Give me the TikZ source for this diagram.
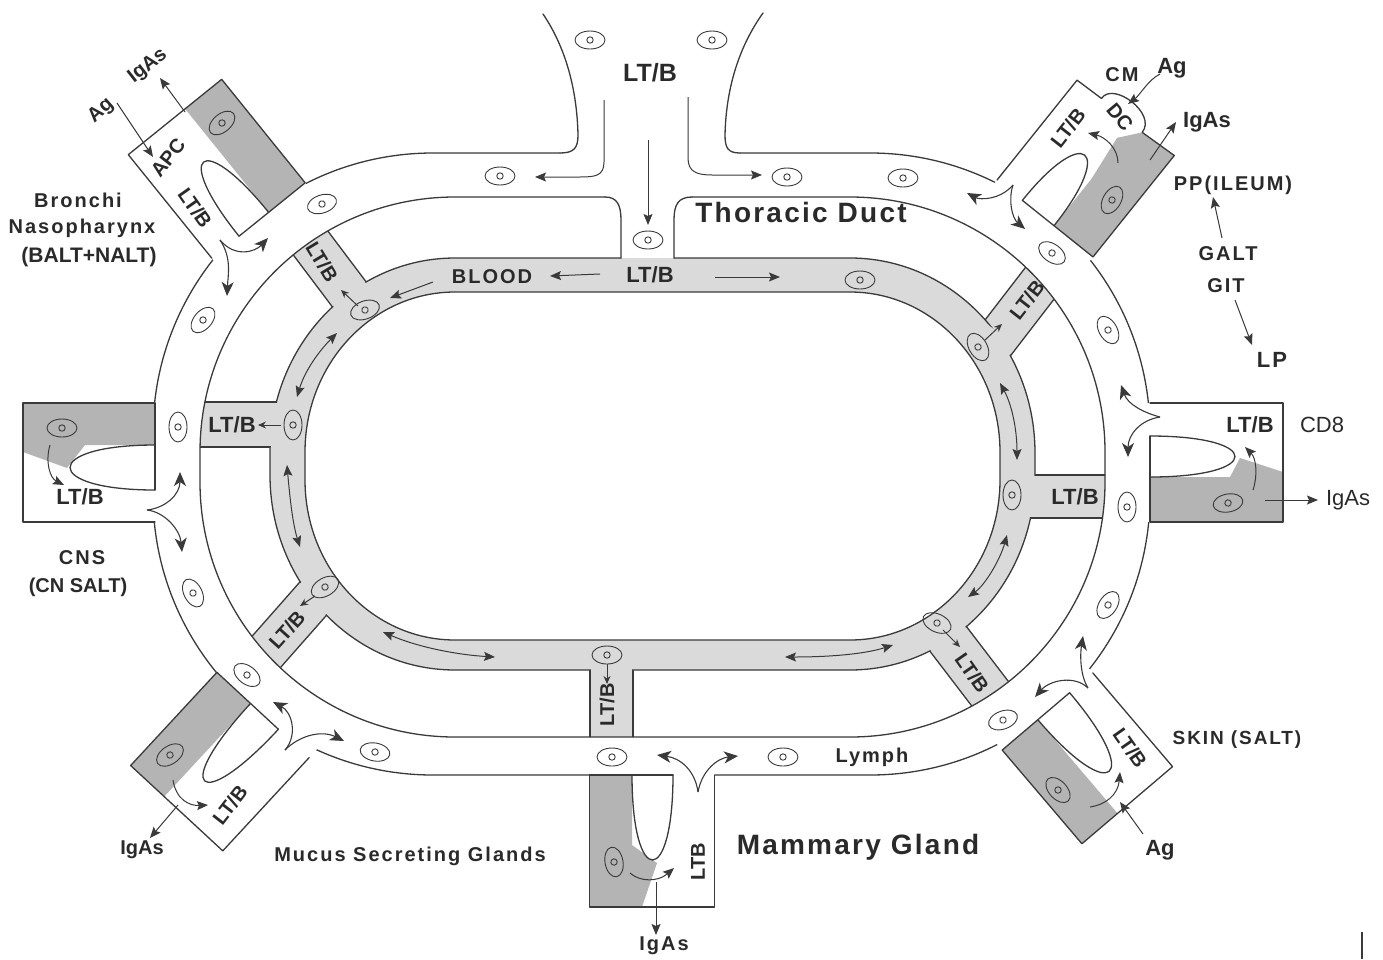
\documentclass[tikz,border=0pt]{standalone}
\usepackage{fontspec}
\setmainfont{Liberation Sans}
\newfontfamily\spc[LetterSpace=10]{Liberation Sans}
\newfontfamily\spcb[LetterSpace=8]{Liberation Sans}
\usetikzlibrary{arrows.meta}
\definecolor{ln}{HTML}{3A3A3A}
\definecolor{tissue}{HTML}{B4B4B4}
\definecolor{bloodc}{HTML}{DADADA}
\definecolor{txt}{HTML}{2A2A2A}
\tikzset{
 outl/.style={draw=ln,line width=1.3pt,line join=round,line cap=round},
 cellst/.style={draw=ln,line width=0.9pt},
 arr/.style={draw=ln,line width=1pt,-{Stealth[length=11pt,width=9pt,inset=2pt]}},
 sarr/.style={draw=ln,line width=1pt,-{Stealth[length=8pt,width=7pt]}},
 darr/.style={draw=ln,line width=1pt,{Stealth[length=11pt,width=9pt,inset=2pt]}-{Stealth[length=11pt,width=9pt,inset=2pt]}},
 fork/.style={draw=ln,line width=1.1pt,-{Stealth[length=14pt,width=12pt,inset=4pt]}},
 lb/.style={text=txt,inner sep=0pt,font=\bfseries\fontsize{20}{22}\selectfont},
 lbm/.style={text=txt,inner sep=0pt,font=\bfseries\fontsize{22}{24}\selectfont},
 lbr/.style={text=txt,inner sep=0pt,font=\fontsize{22}{24}\selectfont},
 lbsp/.style={text=txt,inner sep=0pt,font=\spc\bfseries\fontsize{20}{22}\selectfont},
 lbbig/.style={text=txt,inner sep=0pt,font=\spcb\bfseries\fontsize{28}{30}\selectfont},
}
\newcommand\ringclosed[6]{({#1+#5},#2) -- ({#3-#5},#2) arc[start angle=270,end angle=360,x radius=#5pt,y radius=#6pt] -- (#3,{#4-#6}) arc[start angle=0,end angle=90,x radius=#5pt,y radius=#6pt] -- ({#1+#5},#4) arc[start angle=90,end angle=180,x radius=#5pt,y radius=#6pt] -- (#1,{#2+#6}) arc[start angle=180,end angle=270,x radius=#5pt,y radius=#6pt] -- cycle}
\newcommand\ringopen[8]{(#7,#2) -- ({#1+#5},#2) arc[start angle=270,end angle=180,x radius=#5pt,y radius=#6pt] -- (#1,{#4-#6}) arc[start angle=180,end angle=90,x radius=#5pt,y radius=#6pt] -- ({#3-#5},#4) arc[start angle=90,end angle=0,x radius=#5pt,y radius=#6pt] -- (#3,{#2+#6}) arc[start angle=360,end angle=270,x radius=#5pt,y radius=#6pt] -- (#8,#2)}
\newcommand\organ[9]{%
\begin{scope}[shift={(#1,#2)},rotate=#3]
\fill[white] (-#4,12) rectangle (#4,-#5);
\fill[tissue] (#7,0) -- #9 -- (#4,-#5) -- (#4,0) -- cycle;
\filldraw[fill=white,outl] (#6,0) .. controls (#6,{-1.333*#8}) and (#7,{-1.333*#8}) .. (#7,0);
\draw[outl] (-#4,0) -- (-#4,-#5) -- (#4,-#5) -- (#4,0) -- (#6,0);
\end{scope}}
\newcommand\brn[4]{\begin{scope}[shift={(#1,#2)},rotate=#3]\fill[bloodc] (-#4,10) rectangle (#4,-110);\draw[outl] (-#4,8) -- (-#4,-110) (#4,8) -- (#4,-110);\end{scope}}
\newcommand\brnpatch[4]{\begin{scope}[shift={(#1,#2)},rotate=#3]\fill[bloodc] ({-#4+1.2},8) rectangle ({#4-1.2},-4);\end{scope}}
\newcommand\cel[3]{\begin{scope}[shift={(#1,#2)},rotate={-1*(#3)}]\draw[cellst] (0,0) ellipse[x radius=15pt,y radius=9pt];\draw[cellst] (0,0) circle[radius=3.2pt];\end{scope}}
\begin{document}
\begin{tikzpicture}[x=1pt,y=1pt,yscale=-1]
\useasboundingbox (0,0) rectangle (1383,959);
\fill[white] (0,0) rectangle (1383,959);
% lymph outer and thoracic duct
\draw[outl] \ringopen{153}{153}{1150}{775}{280}{280}{560}{740};
\draw[outl] (560,153) .. controls (574,153) and (578,148) .. (578,135) .. controls (577,90) and (566,48) .. (543,14);
\draw[outl] (740,153) .. controls (728,153) and (725,148) .. (725,135) .. controls (726,90) and (738,48) .. (763,13);
% organ boxes
\organ{258.5}{220.5}{-38.9}{60}{133}{-25}{13}{80}{(13,-133)}
\begin{scope}[shift={(1045,218.5)},rotate=38.7]
\fill[white] (-61.5,12) -- (-61.5,-128) -- (-31,-129) .. controls (-33,-150) and (22,-152) .. (22,-128) -- (61.5,-130) -- (61.5,12) -- cycle;
\fill[tissue] (11.5,0) -- (11.5,-60) -- (5.8,-108) -- (22,-128) -- (61.5,-130) -- (61.5,0) -- cycle;
\filldraw[fill=white,outl] (-29,0) .. controls (-29,-99) and (11.5,-99) .. (11.5,0);
\draw[outl] (-61.5,0) -- (-61.5,-128) -- (-31,-129) .. controls (-33,-150) and (22,-152) .. (22,-128) -- (61.5,-130) -- (61.5,0) -- (-29,0);
\end{scope}
\organ{1150}{462.5}{90}{59.5}{133}{-26.5}{14.5}{85}{(14.5,-80) -- (-4.5,-90) -- (9.5,-133)}
\organ{1047.5}{711.5}{139.6}{59.5}{123}{-29}{12.7}{85.5}{(12.7,-123)}
\organ{652}{775}{180}{62.5}{132}{-21}{20}{85}{(20,-70) -- (-5,-88) -- (10,-132)}
\organ{263}{715}{-137.2}{62.8}{127}{-21}{17}{88}{(17,-127)}
\organ{155}{462.5}{-90}{59.5}{132}{-27.5}{17.5}{85}{(17.5,-70) -- (-5.5,-88) -- (10.5,-132)}
% blood branches
\begin{scope}
\clip \ringclosed{200}{197}{1105}{737}{255}{255};
\brn{349}{294}{-37}{21}
\brn{272}{424.5}{-90}{22.5}
\brn{312}{600}{-138.6}{21}
\brn{611.5}{670}{180}{21.5}
\brn{947.5}{638}{142.6}{22}
\brn{1035}{496.5}{90}{21.5}
\brn{998}{337.5}{37.6}{21}
\end{scope}
% blood band
\fill[bloodc,even odd rule] \ringclosed{270}{258}{1035}{670}{185}{195} \ringclosed{305}{292}{1000}{640}{150}{160};
\draw[outl] \ringopen{270}{258}{1035}{670}{185}{195}{621}{674};
\draw[outl] \ringclosed{305}{292}{1000}{640}{150}{160};
\brnpatch{349}{294}{-37}{21}
\brnpatch{272}{424.5}{-90}{22.5}
\brnpatch{312}{600}{-138.6}{21}
\brnpatch{611.5}{670}{180}{21.5}
\brnpatch{947.5}{638}{142.6}{22}
\brnpatch{1035}{496.5}{90}{21.5}
\brnpatch{998}{337.5}{37.6}{21}
% lymph inner
\draw[outl] \ringopen{200}{197}{1105}{737}{255}{255}{605}{692};
\draw[outl] (605,197) .. controls (617,197) and (621,205) .. (621,220) -- (621,258);
\draw[outl] (674,258) -- (674,220) .. controls (674,205) and (678,197) .. (692,197);
% cells lymph
\cel{590}{40}{0}\cel{712}{40}{0}\cel{500}{176}{0}\cel{787}{177}{0}\cel{903}{178}{0}\cel{648}{240}{0}
\cel{322}{204}{18}\cel{203}{320}{49}\cel{178}{427}{90}\cel{193}{593}{117}\cel{247}{675}{-37}
\cel{375}{752}{-10}\cel{612}{757}{0}\cel{783}{757}{0}\cel{1003}{720}{20}\cel{1108}{605}{57}
\cel{1127}{507}{90}\cel{1108}{330}{120}\cel{1052}{253}{-35}
% cells blood
\cel{365}{310}{20}\cel{293}{425}{90}\cel{325}{587}{30}\cel{607}{655}{0}\cel{937}{623}{-25}
\cel{1012}{495}{90}\cel{978}{347}{-60}\cel{860}{280}{0}
% cells tissue
\cel{222}{123}{40}\cel{1112}{200}{60}\cel{62}{428}{0}\cel{1228}{503}{10}\cel{170}{755}{34}
\cel{614}{862}{100}\cel{1058}{790}{-47}
% duct arrows
\draw[arr] (604,100) -- (604,162) .. controls (604,176) and (595,177) .. (580,177) -- (535,177);
\draw[arr] (688,97) -- (688,158) .. controls (688,172) and (697,175) .. (712,175) -- (762,175);
\draw[arr] (648,140) -- (648,225);
% blood arrows
\draw[arr] (600,274) -- (550,276);
\draw[arr] (715,277) -- (780,277);
\draw[arr] (433,282) -- (390,298);
\draw[darr] (337,333) .. controls (320,350) and (305,370) .. (297,397);
\draw[darr] (287,465) .. controls (290,500) and (293,525) .. (300,547);
\draw[darr] (383,632) .. controls (420,648) and (460,655) .. (495,657);
\draw[darr] (785,657) .. controls (830,657) and (865,654) .. (893,645);
\draw[darr] (968,597) .. controls (985,585) and (1000,560) .. (1007,535);
\draw[darr] (1000,383) .. controls (1012,405) and (1017,430) .. (1017,460);
% cell to branch arrows
\draw[sarr] (358,306) -- (341,290);
\draw[sarr] (281,425) -- (258,425);
\draw[sarr] (315,596) -- (300,606);
\draw[sarr] (607,664) -- (607,684);
\draw[sarr] (943,630) -- (960,647);
\draw[sarr] (985,340) -- (1002,324);
% forks
\draw[fork] (220,240) .. controls (235,258) and (255,252) .. (268,238);
\draw[fork] (220,240) .. controls (232,258) and (228,275) .. (227,296);
\draw[fork] (1013,185) .. controls (1000,200) and (980,200) .. (967,193);
\draw[fork] (1013,185) .. controls (1008,200) and (1012,218) .. (1025,229);
\draw[fork] (1160,417) .. controls (1145,413) and (1128,405) .. (1121,385);
\draw[fork] (1160,417) .. controls (1140,420) and (1128,435) .. (1128,457);
\draw[fork] (1088,688) .. controls (1080,675) and (1080,655) .. (1083,636);
\draw[fork] (1088,688) .. controls (1075,675) and (1050,680) .. (1035,697);
\draw[fork] (698,792) .. controls (695,770) and (680,758) .. (657,755);
\draw[fork] (698,792) .. controls (702,770) and (718,758) .. (738,756);
\draw[fork] (285,750) .. controls (298,735) and (292,712) .. (273,702);
\draw[fork] (285,750) .. controls (300,735) and (322,730) .. (344,741);
\draw[fork] (147,510) .. controls (165,508) and (180,495) .. (180,472);
\draw[fork] (147,510) .. controls (165,512) and (180,530) .. (182,552);
% organ arrows
\draw[arr] (117,103) -- (153,157);
\draw[arr] (185,112) -- (160,78);
\draw[arr] (1160,74) .. controls (1148,80) and (1140,95) .. (1128,104);
\draw[arr] (1150,160) -- (1176,122);
\draw[arr] (1118,163) .. controls (1118,148) and (1105,137) .. (1088,133);
\draw[arr] (1253,490) .. controls (1258,475) and (1256,458) .. (1245,447);
\draw[arr] (1265,500) -- (1318,500);
\draw[arr] (50,445) .. controls (45,462) and (50,478) .. (64,485);
\draw[arr] (173,780) .. controls (176,800) and (190,806) .. (208,805);
\draw[arr] (178,805) -- (150,838);
\draw[arr] (630,873) .. controls (640,882) and (658,882) .. (674,868);
\draw[arr] (656,882) -- (656,935);
\draw[arr] (1090,807) .. controls (1105,805) and (1118,795) .. (1120,772);
\draw[arr] (1143,834) -- (1120,802);
\draw[arr] (1222,238) -- (1213,197);
\draw[arr] (1235,300) -- (1252,345);
\draw[ln,line width=2pt] (1362,932) -- (1362,959);
% labels
\node[lb,rotate=38] (t1) at (148,66) {IgAs};
\node[lb,rotate=42] (t2) at (101,111) {Ag};
\node[lb,rotate=52] (t3) at (168,158) {APC};
\node[lb,rotate=-55] (t4) at (195,208) {LT/B};
\node[lbsp] (t5) at (78,200) {Bronchi};
\node[lbsp] (t6) at (82,228) {Nasopharynx};
\node[lb,font=\bfseries\fontsize{21}{23}\selectfont] (t7) at (89,257) {(BALT+NALT)};
\node[lb,font=\bfseries\fontsize{25}{27}\selectfont] (t8) at (650,73) {LT/B};
\node[lbbig] (t9) at (801,212) {Thoracic Duct};
\node[lbsp] (t10) at (492,277) {BLOOD};
\node[lbm] (t11) at (650,275) {LT/B};
\node[lbsp] (t12) at (1122,75) {CM};
\node[lbm] (t13) at (1172,68) {Ag};
\node[lb,rotate=-50] (t14) at (1120,117) {DC};
\node[lb,rotate=52] (t15) at (1068,128) {LT/B};
\node[lbm] (t16) at (1207,122) {IgAs};
\node[lbsp] (t17) at (1233,185) {PP(ILEUM)};
\node[lbsp] (t18) at (1228,254) {GALT};
\node[lbsp] (t19) at (1226,286) {GIT};
\node[lbsp,font=\spc\bfseries\fontsize{22}{24}\selectfont] (t20) at (1272,360) {LP};
\node[lb,rotate=-59] (t21) at (322,262) {LT/B};
\node[lbm] (t22) at (232,425) {LT/B};
\node[lb,rotate=48] (t23) at (287,630) {LT/B};
\node[lb,rotate=90] (t24) at (607,705) {LT/B};
\node[lb,rotate=-55] (t25) at (972,673) {LT/B};
\node[lbm] (t26) at (1075,497) {LT/B};
\node[lb,rotate=52] (t27) at (1027,300) {LT/B};
\node[lbm] (t28) at (1250,425) {LT/B};
\node[lbr] (t29) at (1322,425) {CD8};
\node[lbr] (t30) at (1348,500) {IgAs};
\node[lbm] (t31) at (80,497) {LT/B};
\node[lbsp] (t32) at (82,558) {CNS};
\node[lb] (t33) at (78,587) {(CN SALT)};
\node[lb] (t34) at (142,850) {IgAs};
\node[lb,rotate=52] (t35) at (230,805) {LT/B};
\node[lbsp] (t36) at (410,856) {Mucus Secreting Glands};
\node[lb,rotate=90] (t37) at (698,862) {LTB};
\node[lbsp] (t38) at (664,946) {IgAs};
\node[lbbig] (t39) at (858,847) {Mammary Gland};
\node[lbsp] (t40) at (872,757) {Lymph};
\node[lb,rotate=-55] (t41) at (1130,748) {LT/B};
\node[lbsp,font=\spc\bfseries\fontsize{19}{21}\selectfont] (t42) at (1237,740) {SKIN (SALT)};
\node[lbm] (t43) at (1160,850) {Ag};
\end{tikzpicture}
\end{document}
